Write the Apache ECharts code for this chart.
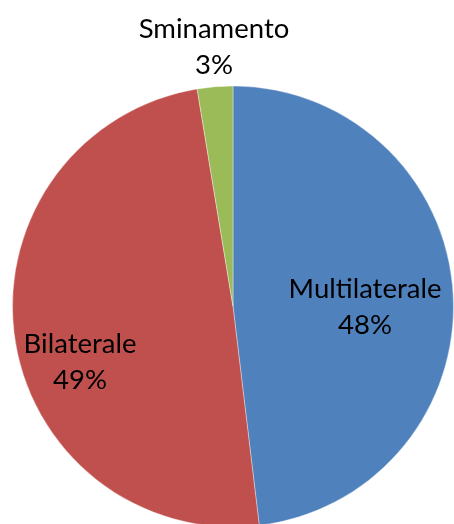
<!DOCTYPE html>
<html>
<head>
<meta charset="utf-8">
<script src="https://cdn.jsdelivr.net/npm/echarts@6/dist/echarts.min.js"></script>
<style>
html,body{margin:0;padding:0;background:#fff;}
#chart{width:454px;height:524px;}
</style>
</head>
<body>
<div id="chart"></div>
<script>
// Data
var categories = ['Multilaterale', 'Bilaterale', 'Sminamento'];
var values = [48.1, 49.3, 2.6];
var colors = ['#4F81BD', '#C0504D', '#9BBB59'];

// Label anchor positions (layout only)
var labelPos = [[365, 307], [80, 362], [214, 47]];

var chart = echarts.init(document.getElementById('chart'), null, {renderer: 'canvas'});
chart.setOption({
  backgroundColor: '#ffffff',
  animation: false,
  series: [{
    type: 'pie',
    center: [233, 306.5],
    radius: [0, 220.5],
    startAngle: 90,
    clockwise: true,
    avoidLabelOverlap: false,
    itemStyle: {borderColor: 'rgba(255,255,255,0.6)', borderWidth: 0.6},
    label: {
      show: true,
      position: 'inside',
      formatter: function (p) { return p.name + '\n' + Math.round(p.percent) + '%'; },
      fontFamily: 'Lato',
      fontSize: 27.5,
      lineHeight: 36,
      color: '#000000',
      align: 'center'
    },
    labelLine: {show: false},
    labelLayout: function (params) {
      var pos = labelPos[params.dataIndex];
      return {x: pos[0], y: pos[1], align: 'center', verticalAlign: 'middle'};
    },
    data: categories.map(function (c, i) {
      return {name: c, value: values[i], itemStyle: {color: colors[i]}};
    })
  }]
});
</script>
</body>
</html>
